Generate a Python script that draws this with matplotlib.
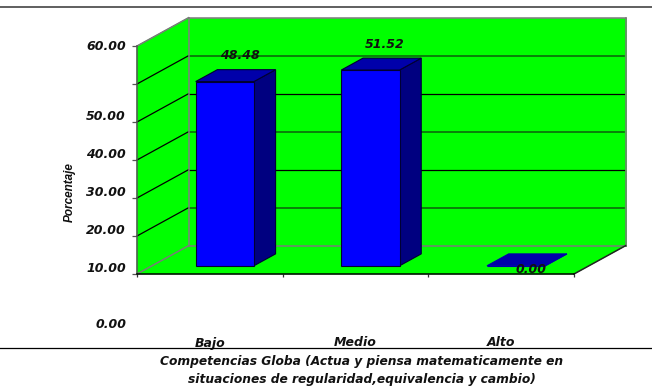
import matplotlib
matplotlib.use("Agg")
import matplotlib.pyplot as plt
from matplotlib.lines import Line2D
from matplotlib.patches import Polygon

categories = ["Bajo", "Medio", "Alto"]
values = [48.48, 51.52, 0.00]
grid_values = [0, 10, 20, 30, 40, 50, 60]
y_tick_text = ["60.00", "50.00", "40.00", "30.00", "20.00", "10.00", "0.00"]
y_text_pos = [59.9, 41.4, 31.4, 21.4, 11.4, 1.4, -13.4]

x_label = "Competencias Globa (Actua y piensa matematicamente en\nsituaciones de regularidad,equivalencia y cambio)"

# oblique projection: how far the back wall sits from the front plane
DEPTH_X = 0.354
DEPTH_Y = 7.45
BAR_W = 0.40
BAR_NEAR = 0.29
BAR_FAR = 0.71

GREEN = "#00ff00"
WALL_EDGE = "#7a7a7a"


def proj(x, y, d):
    return (x + d * DEPTH_X, y + d * DEPTH_Y)


fig = plt.figure(figsize=(6.52, 3.88), dpi=100)
ax = fig.add_axes([137 / 652, (388 - 274) / 388, 437 / 652, 228 / 388])
ax.set_xlim(0, 3)
ax.set_ylim(0, 60)
ax.patch.set_visible(False)

font = dict(family="DejaVu Sans", weight="bold", style="italic", color="#111111")

# green walls and floor
left_wall = [proj(0, 0, 0), proj(0, 60, 0), proj(0, 60, 1), proj(0, 0, 1)]
back_wall = [proj(0, 0, 1), proj(0, 60, 1), proj(3, 60, 1), proj(3, 0, 1)]
floor = [proj(0, 0, 0), proj(0, 0, 1), proj(3, 0, 1), proj(3, 0, 0)]
for pts in (left_wall, back_wall, floor):
    ax.add_patch(Polygon(pts, closed=True, fc=GREEN, ec=GREEN, lw=0.5, clip_on=False, zorder=1))

# gridlines on both walls
for g in grid_values[1:-1]:
    x0, y0 = proj(0, g, 0)
    x1, y1 = proj(0, g, 1)
    x2, y2 = proj(2.99, g, 1)
    ax.plot([x0, x1], [y0, y1], color="black", lw=0.9, clip_on=False, zorder=2)
    if g % 20 == 10:
        ax.plot([x1, x2], [y1, y2], color="#0b6b0b", lw=1.2, clip_on=False, zorder=2)
    else:
        ax.plot([x1, x2], [y1, y2], color="black", lw=0.9, clip_on=False, zorder=2)

# wall outlines
outline = [
    (proj(0, 60, 0), proj(0, 60, 1), WALL_EDGE),
    (proj(0, 60, 1), proj(3, 60, 1), WALL_EDGE),
    (proj(3, 60, 1), proj(3, 0, 1), WALL_EDGE),
    (proj(0, 60, 1), proj(0, 0, 1), WALL_EDGE),
    (proj(0, 0, 1), proj(3, 0, 1), WALL_EDGE),
    (proj(0, 0, 0), proj(0, 0, 1), WALL_EDGE),
    (proj(3, 0, 0), proj(3, 0, 1), "#222222"),
]
for a, b, c in outline:
    ax.plot([a[0], b[0]], [a[1], b[1]], color=c, lw=1.1, clip_on=False, zorder=3)

# bars
for i, v in enumerate(values):
    left = i + 0.5 - BAR_W / 2
    right = left + BAR_W
    front = [proj(left, 0, BAR_NEAR), proj(left, v, BAR_NEAR), proj(right, v, BAR_NEAR), proj(right, 0, BAR_NEAR)]
    side = [proj(right, 0, BAR_NEAR), proj(right, v, BAR_NEAR), proj(right, v, BAR_FAR), proj(right, 0, BAR_FAR)]
    top = [proj(left, v, BAR_NEAR), proj(left, v, BAR_FAR), proj(right, v, BAR_FAR), proj(right, v, BAR_NEAR)]
    edge = "#000033" if v > 0 else "#0000aa"
    ax.add_patch(Polygon(side, closed=True, fc="#000080", ec=edge, lw=0.8, clip_on=False, zorder=4))
    ax.add_patch(Polygon(front, closed=True, fc="#0000ff", ec=edge, lw=0.8, clip_on=False, zorder=5))
    ax.add_patch(Polygon(top, closed=True, fc="#0000aa", ec=edge, lw=0.8, clip_on=False, zorder=5))

    # value labels float over the bar top, the empty bar has its label just below
    lx, ly = proj(i + 0.5, v, BAR_FAR)
    off = -16 if v == 0 else 14
    ax.annotate("%.2f" % v, (lx, ly), xytext=(-7, off), textcoords="offset pixels",
                ha="center", va="center", fontsize=9, zorder=6, annotation_clip=False, **font)

# axes, ticks and labels
for s in ("top", "right"):
    ax.spines[s].set_visible(False)
ax.spines["left"].set_color("#555555")
ax.spines["left"].set_linewidth(1.1)
ax.spines["bottom"].set_color("black")
ax.spines["bottom"].set_linewidth(1.1)
ax.spines["left"].set_zorder(6)
ax.spines["bottom"].set_zorder(6)

ax.set_yticks(grid_values)
ax.set_yticklabels([])
ax.tick_params(axis="y", length=3.6, width=0.9, color="#555555")
ax.set_xticks([0, 1, 2, 3])
ax.set_xticklabels([])
ax.tick_params(axis="x", length=2.4, width=0.9, color="#333333")
ax.set_xticks([0.5, 1.5, 2.5], minor=True)
ax.set_xticklabels(categories, minor=True, fontsize=9, **font)
ax.tick_params(axis="x", which="minor", length=0, pad=45)

for txt, y in zip(y_tick_text, y_text_pos):
    ax.text(-0.075, y, txt, ha="right", va="center", fontsize=9, clip_on=False, **font)

ax.text(-0.46, 21.5, "Porcentaje", rotation=90, ha="center", va="center",
        fontsize=8.5, family="Liberation Sans", weight="bold", style="italic", color="#111111")

fig.text(362 / 652, 1 - 370 / 388, x_label, ha="center", va="center", fontsize=8.8,
         linespacing=1.5, **font)

# frame lines across the whole image
fig.add_artist(Line2D([0, 1], [1 - 6.5 / 388] * 2, color="#444444", lw=1.2))
fig.add_artist(Line2D([0, 1], [1 - 347.5 / 388] * 2, color="black", lw=0.9))

fig.savefig("out.png", dpi=100)
